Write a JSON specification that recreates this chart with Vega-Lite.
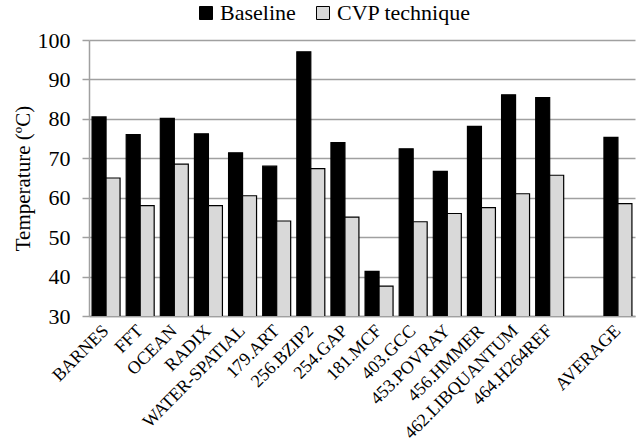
{
  "$schema": "https://vega.github.io/schema/vega-lite/v6.json",
  "autosize": {"type": "none"},
  "width": 546,
  "height": 276,
  "padding": {"left": 89, "top": 40, "right": 5, "bottom": 131},
  "background": "white",
  "config": {
    "font": "Liberation Serif",
    "view": {"stroke": null}
  },
  "data": {
    "values": [
      {"bench": "BARNES", "series": "Baseline", "temp": 80.5},
      {"bench": "BARNES", "series": "CVP technique", "temp": 65},
      {"bench": "FFT", "series": "Baseline", "temp": 76},
      {"bench": "FFT", "series": "CVP technique", "temp": 58},
      {"bench": "OCEAN", "series": "Baseline", "temp": 80.1},
      {"bench": "OCEAN", "series": "CVP technique", "temp": 68.5},
      {"bench": "RADIX", "series": "Baseline", "temp": 76.2},
      {"bench": "RADIX", "series": "CVP technique", "temp": 58},
      {"bench": "WATER-SPATIAL", "series": "Baseline", "temp": 71.4},
      {"bench": "WATER-SPATIAL", "series": "CVP technique", "temp": 60.5},
      {"bench": "179.ART", "series": "Baseline", "temp": 68},
      {"bench": "179.ART", "series": "CVP technique", "temp": 54.1},
      {"bench": "256.BZIP2", "series": "Baseline", "temp": 97},
      {"bench": "256.BZIP2", "series": "CVP technique", "temp": 67.4},
      {"bench": "254.GAP", "series": "Baseline", "temp": 74},
      {"bench": "254.GAP", "series": "CVP technique", "temp": 55.1},
      {"bench": "181.MCF", "series": "Baseline", "temp": 41.3},
      {"bench": "181.MCF", "series": "CVP technique", "temp": 37.6},
      {"bench": "403.GCC", "series": "Baseline", "temp": 72.4},
      {"bench": "403.GCC", "series": "CVP technique", "temp": 53.9},
      {"bench": "453.POVRAY", "series": "Baseline", "temp": 66.7},
      {"bench": "453.POVRAY", "series": "CVP technique", "temp": 56},
      {"bench": "456.HMMER", "series": "Baseline", "temp": 78.1},
      {"bench": "456.HMMER", "series": "CVP technique", "temp": 57.5},
      {"bench": "462.LIBQUANTUM", "series": "Baseline", "temp": 86.1},
      {"bench": "462.LIBQUANTUM", "series": "CVP technique", "temp": 61},
      {"bench": "464.H264REF", "series": "Baseline", "temp": 85.4},
      {"bench": "464.H264REF", "series": "CVP technique", "temp": 65.7},
      {"bench": "AVERAGE", "series": "Baseline", "temp": 75.3},
      {"bench": "AVERAGE", "series": "CVP technique", "temp": 58.5}
    ]
  },
  "mark": {"type": "bar", "stroke": "black", "strokeWidth": 1.2, "clip": true},
  "encoding": {
    "x": {
      "field": "bench",
      "type": "nominal",
      "sort": null,
      "scale": {
        "domain": ["BARNES", "FFT", "OCEAN", "RADIX", "WATER-SPATIAL", "179.ART", "256.BZIP2", "254.GAP", "181.MCF", "403.GCC", "453.POVRAY", "456.HMMER", "462.LIBQUANTUM", "464.H264REF", " ", "AVERAGE"],
        "paddingInner": 0.18,
        "paddingOuter": 0.09
      },
      "axis": {
        "title": null,
        "labelAngle": -45,
        "labelAlign": "right",
        "labelBaseline": "middle",
        "labelFontSize": 18,
        "labelColor": "black",
        "labelPadding": 12,
        "ticks": false,
        "domainColor": "#a0a0a0",
        "domainWidth": 1.5
      }
    },
    "xOffset": {"field": "series", "type": "nominal", "scale": {"paddingInner": 0}},
    "y": {
      "field": "temp",
      "type": "quantitative",
      "scale": {"domain": [30, 100], "nice": false, "zero": false},
      "axis": {
        "title": "Temperature (ºC)",
        "titleFontSize": 21,
        "titleFontWeight": "normal",
        "titleColor": "black",
        "titlePadding": 4,
        "values": [30, 40, 50, 60, 70, 80, 90, 100],
        "labelFontSize": 22,
        "labelColor": "black",
        "labelPadding": 12,
        "tickSize": 7,
        "tickColor": "#a0a0a0",
        "tickWidth": 1.5,
        "grid": true,
        "gridColor": "#a0a0a0",
        "gridWidth": 1.5,
        "domainColor": "#a0a0a0",
        "domainWidth": 1.5
      }
    },
    "fill": {
      "field": "series",
      "type": "nominal",
      "scale": {"domain": ["Baseline", "CVP technique"], "range": ["black", "#d9d9d9"]},
      "legend": {
        "title": null,
        "orient": "none",
        "legendX": 106,
        "legendY": -38,
        "direction": "horizontal",
        "symbolType": "square",
        "symbolSize": 169,
        "symbolStrokeColor": "black",
        "symbolStrokeWidth": 1,
        "labelFontSize": 22,
        "labelColor": "black",
        "labelOffset": 3,
        "columnPadding": 16
      }
    }
  }
}
